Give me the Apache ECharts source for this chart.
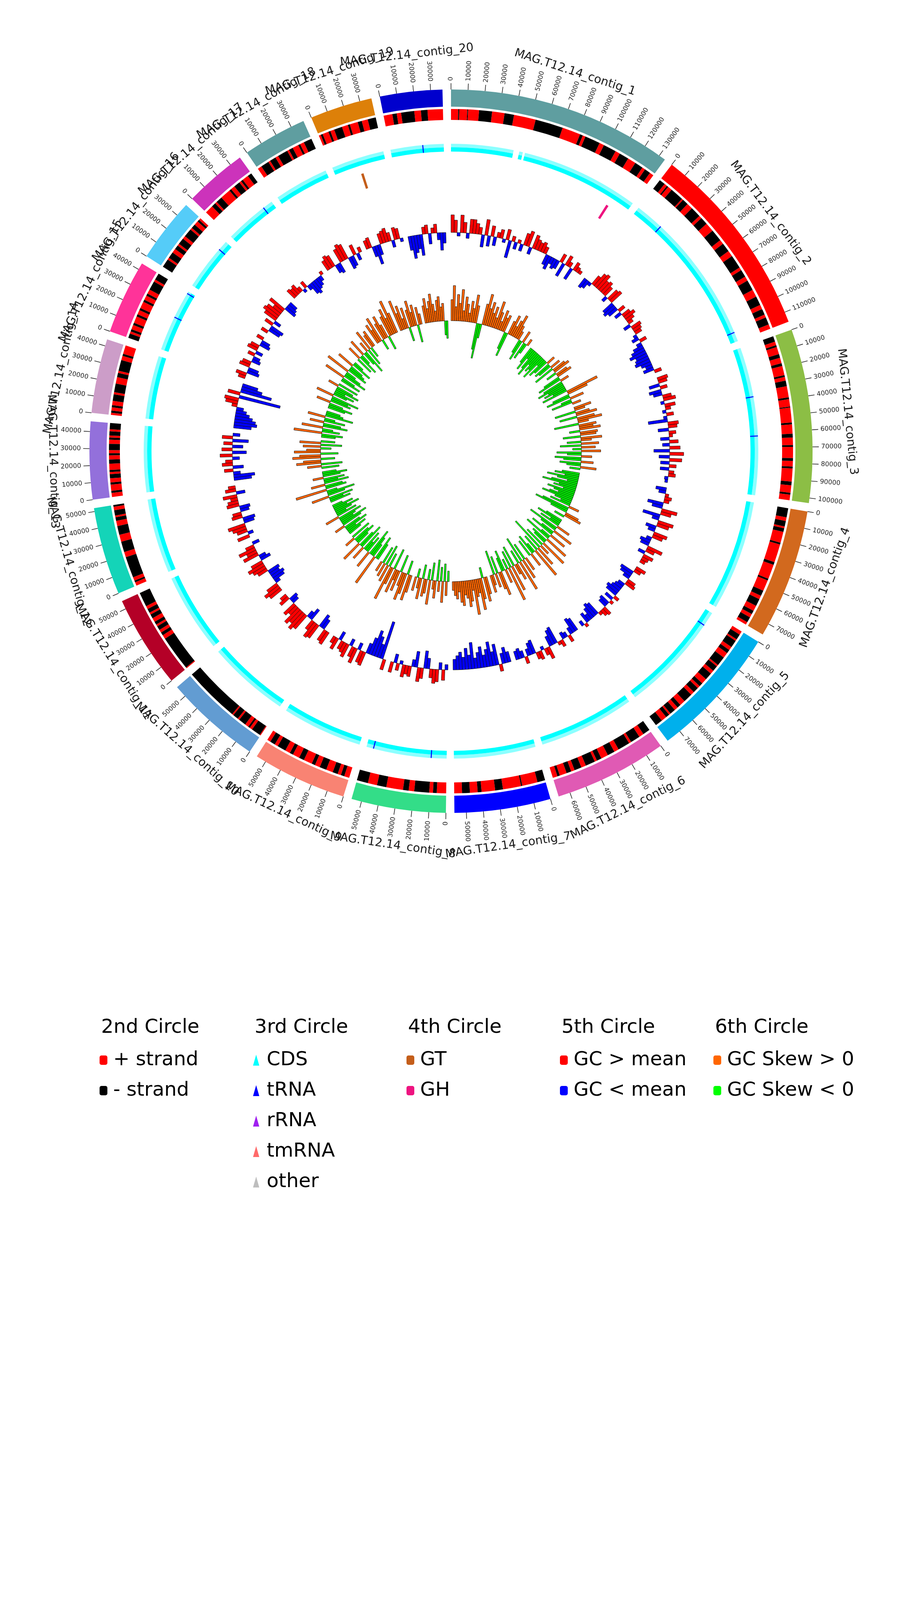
<!DOCTYPE html>
<html>
<head>
<meta charset="UTF-8">
<title>MAG.T12.14 genome circle</title>
<script src="https://cdn.jsdelivr.net/npm/echarts@6/dist/echarts.min.js"></script>
<style>
html,body{margin:0;padding:0;background:#fff;}
#main{width:2310px;height:4620px;}
</style>
</head>
<body>
<div id="main"></div>
<script>
// ---------- data ----------
var contigNames = ['MAG.T12.14_contig_1','MAG.T12.14_contig_2','MAG.T12.14_contig_3','MAG.T12.14_contig_4',
    'MAG.T12.14_contig_5','MAG.T12.14_contig_6','MAG.T12.14_contig_7','MAG.T12.14_contig_8',
    'MAG.T12.14_contig_9','MAG.T12.14_contig_10','MAG.T12.14_contig_11','MAG.T12.14_contig_12',
    'MAG.T12.14_contig_13','MAG.T12.14_contig_14','MAG.T12.14_contig_15','MAG.T12.14_contig_16',
    'MAG.T12.14_contig_17','MAG.T12.14_contig_18','MAG.T12.14_contig_19','MAG.T12.14_contig_20'];
var contigLengths = [134000,116000,103000,77000,79000,67000,57000,56000,56000,57000,
    55000,52000,46000,44000,44000,38000,37000,38000,37000,37000];

// 2nd circle: strand runs along each contig (+ = plus strand, - = minus strand), relative lengths
var strand1 = [4.5,-0.6,5,-0.5,6.8,-8.1,7.8,-5.9,13.7,-17.4,11.5,-1.8,1.8,-9.6,3,-8.1,3,-6,5.2,-5.2,2,-3.7,2.6];
var strand2 = [-4,2,-1,3,-9,1,-4,4,-7,2,-5,6,-8,3,-6,4,-9,2,-5,3,-7,5,-6,3,-4,2,-5,3];
var strand3 = [-3,2,-1,4,-2,3,-1.5,5,-1,2,-3,6,-1,4,-0.5,8,-1,5,-2,4,-1,6,-1.5,3,-1,7,-2,4,-1,3];
var strand4 = [-5,2,-3,1,-2,6,-1,10,-1.5,8,-1,6,-3,2,-4,3,-2,2,-3,1.5];
var strand5 = [2,-3,1,-4,2,-2,3,-5,1,-3,2,-4,3,-2,1.5,-3,2,-5,3,-2,2,-3,1,-2,3,-4];
var strand6 = [-3,2,-4,1,-5,2,-3,3,-2,1,-4,2,-3,1.5,-2,3,-1,2];
var strand7 = [-20,40,-3,47,-20,35,-10,20,-20,20];
var strand8 = [25,-10,10,-40,15,-15,45,-25,25,-30];
var strand9 = [3,-2,2,-3,4,-4,3,-2,5,-3,4,-2,3,-5,2,-3,2];
var strand10 = [0.5,-5,1.5,-1,2,-4,1,-3,0.8,-30];
var strand11 = [0.5,-17,2,-1.5,1.5,-2,1,-1.5,2,-2,1,-2,1.5,-7];
var strand12 = [2,-1,2,-12,3,-6,4,-5,3,-2,1,-3,2,-1];
var strand13 = [2,-1,3,-1,2,-2,1,-1,3,-2,2,-1,1.5,-3,2,-1,1,-2,1,-3];
var strand14 = [1,-1,1.5,-1,2,-3,1,-4,3,-2,1,-5,2,-1,4];
var strand15 = [-2,1,-1,2,-1,3,-1,2,-1,3,-1,2,-1,2,-4,1,-3];
var strand16 = [-4,1,-3,2,-2,1,-3,1.5,-4,1,-2,2,-1,1];
var strand17 = [4,-2,1,-3,5,-1,2,-3,1,-1,3,-2];
var strand18 = [2,-4,1,-3,1.5,-5,1,-2,3,-1,2,-4];
var strand19 = [1,-1,3,-1,2,-4,3,-1,4,-2,3,-4];
var strand20 = [4,-2,2,-6,3,-3,7];

// 3rd circle: CDS gaps inside contigs [contig, from, to] and tRNA positions
var cdsGaps = [[1,43500,47500],[1,50000,51500]];
var trnaContig = [20,2,2,3,3,5,8,8,15,15,16,17];
var trnaPos = [22500,20000,109500,34800,62000,10000,10700,51000,24000,42500,31000,30000];

// 4th circle: CAZy hits
var gtContig = [19], gtPos = [18500];
var ghContig = [1], ghPos = [120000];

// 5th circle: GC content minus mean (%), windows spread evenly over each contig
var gc1 = [5,3.5,-1,5,3,-1.5,4,4,3,2,-3.5,4.5,-3,3,-2.5,1.5,2.5,-1,3,-5,1.5,-2,1,-2,3.5,4.5,-2,4,3,2.5,3,2,-3,-4,-2,-3,-2.5,2.5,-4,3,1.5,-3.5,2.5,1.5,1];
var gc2 = [-3,-2.5,-1,3,4.5,5,3.5,4,3,-1.5,3.5,4,-3.5,-4,-3,2,-2,2.5,3.5,2.5,1.5,-2,3,2.5,2,-1,-2,2,-1.5,-3,-4,-5,-3.5,-4,-4.5,-3,-2,-3,2];
var gc3 = [3,2.5,-3,2,-3.5,-2.5,2.5,3.5,-1,3,1.5,-1,2,-1,-5.5,3,2.5,-3,2,1,-2.5,2.5,-2,3,-4.5,4,-3,3.5,-2.5,2,-2.5,1.5,2,-1,-0.8];
var gc4 = [-3,-2,1,2,1.5,-4.5,-3,4.5,3,-5,-2,4.5,3.5,-3,-2,4,3,-1.5,-3,-2.5,4.5,2.5,-2,3,2,1.5];
var gc5 = [3,2,-4,-3.5,-2,2.5,3,-2,-2.5,-3,-4,-3.5,1.5,-2.5,1,-3,-2.5,2.5,2,1,-4,-4.5,-3.5,-2,-3,1,-1.5];
var gc6 = [-4,-4.5,-2,2,-1.5,-2,2,1,-5,-4.5,-3,3.5,2,-1,2.5,2,-4,-3.5,-2,2,-2,-3,-2.5];
var gc7 = [-3,-4.5,-3,2,-6,-4,-7,-5,-3.5,-6,-4.5,-3,-7.5,-4,-6,-3.5,-5,-4,-3];
var gc8 = [-1.5,3,-2,3.5,4,2.5,-3,-5,3,4,-4.5,-2,3,2.5,3.5,-1,2,-2.5,3];
var gc9 = [3,-11,-4,-6,-7.5,-5,-3,4,3.5,-2,4.5,3,-2,4,3,2.5,-2.5,3.5,2];
var gc10 = [4,3.5,-3,-4,4.5,5,3,-3.5,-2,5,6,4.5,5.5,3,4,-2,-2.5,3,2];
var gc11 = [4,5,3.5,-1.5,-3.5,-4,-3,-3.5,3,4,5,3.5,-3,-2,4.5,3,5,2.5,-2];
var gc12 = [3.5,-1.5,3,4,5,-3,-3.5,3,2.5,-2.5,-3,3.5,3,2,4,-2.5,3,2];
var gc13 = [-5,-6,-2,2.5,-3,3,2,-2,3.5,-4,3,-3,2.5,-4.5,3,-2];
var gc14 = [-5,-6.5,-6,-5,-4,-3,-2,1.5,3.5,4,-12,3.5,-9,-6,-4.5];
var gc15 = [2,3,-3.5,-3,3,2.5,-2.5,-2,2,-2,3,2.5,-3,-2.5,2];
var gc16 = [2,-3.5,-4,2.5,-2,4,5,4.5,3,5,-3.5,-3,-2.5];
var gc17 = [3,2.5,3,1.5,-1,2,-1.5,-3.5,-4,-3,-2.5,-1.5,1];
var gc18 = [3,4,3.5,-2.5,-3,4,5,4.5,-3.5,-3,3,-2,1.5];
var gc19 = [2.5,3,-3,-5.5,-3,3,3.5,4,2.5,-2,3.5,3,-1];
var gc20 = [-4,-6.5,-5,-4,-6,2,2.5,-3,1.5,2.5,-2,-5,-3];

// 6th circle: GC skew per window
var sk1 = [0.12,0.2,0.08,0.15,0.1,0.18,0.06,0.14,0.1,0.05,0.12,0.08,0.16,0.1,-0.15,-0.2,-0.08,0.12,0.18,0.1,0.14,0.08,0.12,0.06,0.16,0.1,0.05,0.12,0.08,0.1,-0.1,-0.14,0.08,0.12,0.06,0.1,0.14,0.08,0.05,-0.08,-0.12,0.07,-0.1,-0.06,0.04];
var sk2 = [-0.1,-0.14,-0.06,-0.12,-0.16,-0.08,-0.12,-0.1,-0.15,-0.05,-0.12,-0.09,0.05,-0.1,-0.08,0.06,-0.12,0.08,0.1,-0.06,0.07,0.09,-0.1,-0.14,0.05,-0.12,-0.16,-0.1,-0.13,-0.08,-0.15,0.19,0.12,-0.1,-0.14,0.08,-0.06,-0.12,0.05];
var sk3 = [0.1,0.06,-0.12,0.08,0.12,-0.1,0.1,0.14,0.06,-0.14,0.1,0.08,0.12,-0.06,0.1,0.09,-0.1,0.12,0.06,-0.08,0.1,-0.12,0.08,-0.05,0.11,-0.14,-0.08,0.06,-0.15,-0.1,0.07,-0.12,-0.08,0.09,-0.06];
var sk4 = [-0.1,-0.14,-0.08,-0.18,-0.12,-0.06,-0.15,-0.2,-0.1,-0.13,-0.07,-0.16,-0.12,-0.09,-0.14,-0.18,-0.1,-0.06,-0.12,0.06,-0.16,-0.2,-0.1,0.08,0.1,-0.06];
var sk5 = [-0.1,-0.15,-0.06,-0.12,0.08,-0.18,-0.1,0.12,-0.08,-0.14,0.1,-0.06,-0.16,0.14,-0.1,-0.08,0.16,-0.12,0.06,-0.2,0.12,-0.1,0.18,-0.06,-0.12,0.08,-0.1];
var sk6 = [0.08,-0.1,0.12,-0.15,0.18,-0.08,0.1,0.06,-0.12,0.15,-0.1,0.2,-0.06,0.08,-0.12,-0.08,0.14,0.1,-0.1,0.08,-0.14,0.06,0.1];
var sk7 = [0.1,0.14,-0.06,0.12,0.18,0.08,0.1,0.2,0.06,0.12,0.15,0.1,0.08,0.14,0.12,0.06,0.1,0.08,0.05];
var sk8 = [-0.06,0.08,-0.1,0.12,-0.08,0.06,-0.12,0.1,0.05,-0.1,0.14,-0.06,0.08,0.1,-0.08,0.12,0.06,-0.05,0.08];
var sk9 = [0.1,0.15,-0.08,0.12,0.16,0.08,-0.1,0.12,0.06,0.14,-0.12,0.1,0.2,-0.08,0.1,-0.12,0.08,-0.1,0.06];
var sk10 = [-0.1,-0.14,0.18,-0.08,-0.12,-0.16,0.1,-0.1,-0.06,-0.12,0.08,-0.15,-0.1,0.12,-0.08,-0.13,-0.1,0.06,-0.12];
var sk11 = [-0.08,-0.12,-0.06,-0.14,-0.1,0.06,-0.12,-0.16,-0.08,-0.1,-0.14,0.08,-0.12,-0.06,-0.1,-0.15,-0.08,-0.12,-0.06];
var sk12 = [-0.12,-0.08,-0.14,0.1,-0.1,-0.16,-0.06,0.18,-0.12,-0.1,0.08,-0.14,-0.08,-0.12,0.06,-0.1,-0.14,-0.08];
var sk13 = [-0.1,0.08,-0.12,0.14,0.1,-0.08,0.16,0.12,-0.1,0.15,0.08,-0.06,0.1,-0.12,0.12,-0.08];
var sk14 = [-0.08,-0.12,0.16,-0.1,-0.06,0.12,-0.14,-0.1,0.08,-0.12,-0.06,0.1,-0.16,-0.1,-0.08];
var sk15 = [-0.1,-0.14,-0.08,0.08,-0.12,-0.1,-0.16,0.1,-0.08,-0.12,-0.06,-0.14,-0.1,0.06,-0.12];
var sk16 = [-0.12,-0.08,0.12,-0.14,-0.1,-0.06,0.14,-0.12,-0.1,-0.08,0.1,-0.12,-0.06];
var sk17 = [-0.1,0.08,-0.12,-0.06,0.1,-0.08,-0.14,0.06,-0.1,0.12,-0.06,0.08,0.1];
var sk18 = [0.12,0.08,0.15,-0.06,0.1,0.14,0.08,-0.08,0.12,0.16,0.1,0.2,0.12];
var sk19 = [0.18,0.1,0.14,0.06,0.12,-0.08,0.1,0.15,0.08,0.12,-0.1,0.1,0.06];
var sk20 = [0.1,0.14,0.08,0.12,0.16,0.1,0.06,0.12,0.14,0.08,0.1,-0.08,-0.1];

var legendTitles = ['2nd Circle','3rd Circle','4th Circle','5th Circle','6th Circle'];

// ---------- styling ----------
var FONT = 'DejaVu Sans';
var GAP = 5000;          // space between contigs, in bp
var TICK_STEP = 10000;
var contigColors = ['#5F9EA0','#FF0000','#8CBE45','#D2691E','#00B0EC','#E05AB4','#0000FF','#33DD88',
    '#F98373','#629CD2','#B40027','#14D4B8','#9370DB','#CC9DC8','#FF3399','#55CCF8',
    '#CC33BB','#5F9EA0','#DD8009','#0000CD'];
var C = {plus:'#FF0000', minus:'#000000', cds:'#00FFFF', trna:'#0000FF', rrna:'#A020F0', tmrna:'#FF6A6A',
    other:'#BEBEBE', gt:'#C45E1A', gh:'#EE1480', gcHi:'#FF0000', gcLo:'#0000FF', skHi:'#FF6600', skLo:'#00FF00'};
var R = {bandIn:882, bandOut:926, strandIn:848, strandOut:876, cdsIn:767, cdsMid:778, cdsOut:787,
    featIn:706, featOut:746, gcBase:560, gcScale:9, skBase:334, skScale:450,
    tickIn:926, tickOut:942, tickLabel:948, name:1020};

// ---------- build series data ----------
var offsets = [], acc = 0;
contigLengths.forEach(function (len) { offsets.push(acc); acc += len + GAP; });
var TOTAL = acc;

var contigData = contigLengths.map(function (len, i) { return [offsets[i], offsets[i] + len, i]; });
var nameData = contigLengths.map(function (len, i) { return [offsets[i] + len / 2, i]; });
var tickData = [];
contigLengths.forEach(function (len, i) {
    for (var t = 0; t <= len; t += TICK_STEP) tickData.push([offsets[i] + t, t]);
});

var strandRuns = [strand1,strand2,strand3,strand4,strand5,strand6,strand7,strand8,strand9,strand10,
    strand11,strand12,strand13,strand14,strand15,strand16,strand17,strand18,strand19,strand20];
var plusData = [], minusData = [];
strandRuns.forEach(function (runs, i) {
    var tot = runs.reduce(function (s, v) { return s + Math.abs(v); }, 0);
    var k = contigLengths[i] / tot, cur = offsets[i];
    runs.forEach(function (v) {
        var w = Math.abs(v) * k;
        (v > 0 ? plusData : minusData).push([cur, cur + w]);
        cur += w;
    });
});

var cdsData = [];
contigLengths.forEach(function (len, i) {
    var segs = [[0, len]];
    cdsGaps.forEach(function (g) {
        if (g[0] - 1 !== i) return;
        var next = [];
        segs.forEach(function (s) {
            if (g[2] <= s[0] || g[1] >= s[1]) { next.push(s); return; }
            if (g[1] > s[0]) next.push([s[0], g[1]]);
            if (g[2] < s[1]) next.push([g[2], s[1]]);
        });
        segs = next;
    });
    segs.forEach(function (s) { cdsData.push([offsets[i] + s[0], offsets[i] + s[1]]); });
});

function pointData(contigs, pos) {
    return contigs.map(function (c, j) { return [offsets[c - 1] + pos[j]]; });
}
var trnaData = pointData(trnaContig, trnaPos);
var gtData = pointData(gtContig, gtPos);
var ghData = pointData(ghContig, ghPos);

function windowData(list, hi, lo) {
    list.forEach(function (vals, i) {
        var w = contigLengths[i] / vals.length;
        vals.forEach(function (v, j) {
            var s = offsets[i] + j * w;
            (v >= 0 ? hi : lo).push([s, s + w, v]);
        });
    });
}
var gcHi = [], gcLo = [], skHi = [], skLo = [];
windowData([gc1,gc2,gc3,gc4,gc5,gc6,gc7,gc8,gc9,gc10,gc11,gc12,gc13,gc14,gc15,gc16,gc17,gc18,gc19,gc20], gcHi, gcLo);
windowData([sk1,sk2,sk3,sk4,sk5,sk6,sk7,sk8,sk9,sk10,sk11,sk12,sk13,sk14,sk15,sk16,sk17,sk18,sk19,sk20], skHi, skLo);

// ---------- render helpers (all positions go through the polar axes) ----------
function scrAngle(api, cs, pos) {
    var p = api.coord([1000, pos]);
    return Math.atan2(p[1] - cs.cy, p[0] - cs.cx);
}
function pixR(api, cs, r) {
    var p = api.coord([r, 0]);
    return Math.sqrt((p[0] - cs.cx) * (p[0] - cs.cx) + (p[1] - cs.cy) * (p[1] - cs.cy));
}
function sector(api, cs, a0, a1, r0, r1, style) {
    var s = scrAngle(api, cs, a0), e = scrAngle(api, cs, a1);
    if (e < s) e = (s - e > Math.PI) ? e + Math.PI * 2 : s;
    var ra = pixR(api, cs, r0), rb = pixR(api, cs, r1);
    return {type: 'sector', shape: {cx: cs.cx, cy: cs.cy, r0: Math.min(ra, rb), r: Math.max(ra, rb),
        startAngle: s, endAngle: e, clockwise: true}, style: style};
}
function bandItem(r0, r1, color) {
    return function (params, api) {
        return sector(api, params.coordSys, api.value(0), api.value(1), r0, r1, {fill: color});
    };
}
function cdsItem(params, api) {
    var cs = params.coordSys, a0 = api.value(0), a1 = api.value(1);
    return {type: 'group', children: [
        sector(api, cs, a0, a1, R.cdsIn, R.cdsMid, {fill: C.cds}),
        sector(api, cs, a0, a1, R.cdsMid, R.cdsOut, {fill: C.cds, opacity: 0.45})
    ]};
}
function markItem(r0, r1, width, color) {
    return function (params, api) {
        var p = api.value(0);
        return sector(api, params.coordSys, p - width / 2, p + width / 2, r0, r1, {fill: color});
    };
}
function barItem(base, scale, color) {
    return function (params, api) {
        var v = api.value(2);
        return sector(api, params.coordSys, api.value(0), api.value(1), base, base + v * scale,
            {fill: color, stroke: '#111', lineWidth: 1});
    };
}
function contigItem(params, api) {
    return sector(api, params.coordSys, api.value(0), api.value(1), R.bandIn, R.bandOut,
        {fill: contigColors[api.value(2)]});
}
function tickItem(params, api) {
    var cs = params.coordSys, pos = api.value(0);
    var a = api.coord([R.tickIn, pos]), b = api.coord([R.tickOut, pos]), l = api.coord([R.tickLabel, pos]);
    var t = Math.atan2(l[1] - cs.cy, l[0] - cs.cx);
    var clock = ((t * 180 / Math.PI) + 90 + 360) % 360;
    var rot, align;
    if (clock < 180) { rot = -t; align = 'left'; } else { rot = Math.PI - t; align = 'right'; }
    return {type: 'group', children: [
        {type: 'line', shape: {x1: a[0], y1: a[1], x2: b[0], y2: b[1]}, style: {stroke: '#222', lineWidth: 1.6}},
        {type: 'text', x: l[0], y: l[1], rotation: rot,
            style: {text: String(api.value(1)), fontSize: 16.5, fontFamily: FONT, fill: '#222',
                align: align, verticalAlign: 'middle'}}
    ]};
}
function nameItem(params, api) {
    var cs = params.coordSys;
    var p = api.coord([R.name, api.value(0)]);
    var t = Math.atan2(p[1] - cs.cy, p[0] - cs.cx);
    var clock = ((t * 180 / Math.PI) + 90 + 360) % 360;
    var rot = (clock >= 90 && clock < 270) ? (Math.PI / 2 - t) : (-t - Math.PI / 2);
    return {type: 'text', x: p[0], y: p[1], rotation: rot,
        style: {text: contigNames[api.value(1)], fontSize: 30, fontFamily: FONT, fill: '#1a1a1a',
            align: 'center', verticalAlign: 'middle'}};
}

function polarSeries(name, data, renderItem, color, z) {
    return {type: 'custom', name: name, coordinateSystem: 'polar', data: data, renderItem: renderItem,
        itemStyle: {color: color}, silent: true, z: z || 2};
}

var series = [
    polarSeries('contigs', contigData, contigItem, '#5F9EA0'),
    polarSeries('ticks', tickData, tickItem, '#222'),
    polarSeries('names', nameData, nameItem, '#222'),
    polarSeries('+ strand', plusData, bandItem(R.strandIn, R.strandOut, C.plus), C.plus),
    polarSeries('- strand', minusData, bandItem(R.strandIn, R.strandOut, C.minus), C.minus),
    polarSeries('CDS', cdsData, cdsItem, C.cds),
    polarSeries('tRNA', trnaData, markItem(R.cdsIn, R.cdsOut, 700, C.trna), C.trna, 3),
    polarSeries('rRNA', [], markItem(R.cdsIn, R.cdsOut, 700, C.rrna), C.rrna),
    polarSeries('tmRNA', [], markItem(R.cdsIn, R.cdsOut, 700, C.tmrna), C.tmrna),
    polarSeries('other', [], markItem(R.cdsIn, R.cdsOut, 700, C.other), C.other),
    polarSeries('GT', gtData, markItem(R.featIn, R.featOut, 1800, C.gt), C.gt),
    polarSeries('GH', ghData, markItem(R.featIn, R.featOut, 1800, C.gh), C.gh),
    polarSeries('GC > mean', gcHi, barItem(R.gcBase, R.gcScale, C.gcHi), C.gcHi),
    polarSeries('GC < mean', gcLo, barItem(R.gcBase, R.gcScale, C.gcLo), C.gcLo),
    polarSeries('GC Skew > 0', skHi, barItem(R.skBase, R.skScale, C.skHi), C.skHi),
    polarSeries('GC Skew < 0', skLo, barItem(R.skBase, R.skScale, C.skLo), C.skLo)
];

// ---------- legend ----------
var colLeft = [250, 643, 1036, 1429, 1822];
var legendItems = [['+ strand','- strand'], ['CDS','tRNA','rRNA','tmRNA','other'], ['GT','GH'],
    ['GC > mean','GC < mean'], ['GC Skew > 0','GC Skew < 0']];
var legends = legendItems.map(function (items, i) {
    var tri = (i === 1);
    return {data: items, orient: 'vertical', left: colLeft[i], top: 2680, itemGap: 20,
        selectedMode: false, icon: tri ? 'triangle' : 'roundRect',
        itemWidth: tri ? 16 : 20, itemHeight: tri ? 28 : 24,
        textStyle: {fontSize: 50, fontFamily: FONT, color: '#000', lineHeight: 58,
            padding: [0, 0, 0, tri ? 14 : 10]}};
});
var titles = legendTitles.map(function (txt, i) {
    return {text: txt, left: colLeft[i] + 9, top: 2606, padding: 0,
        textStyle: {fontSize: 50, fontFamily: FONT, fontWeight: 'normal', color: '#000'}};
});

var chart = echarts.init(document.getElementById('main'));
chart.setOption({
    animation: false,
    backgroundColor: '#fff',
    title: titles,
    legend: legends,
    polar: {center: [1155, 1155], radius: [0, 1155]},
    angleAxis: {type: 'value', min: 0, max: TOTAL, startAngle: 90, clockwise: true, show: false},
    radiusAxis: {type: 'value', min: 0, max: 1155, show: false},
    series: series
});
</script>
</body>
</html>
